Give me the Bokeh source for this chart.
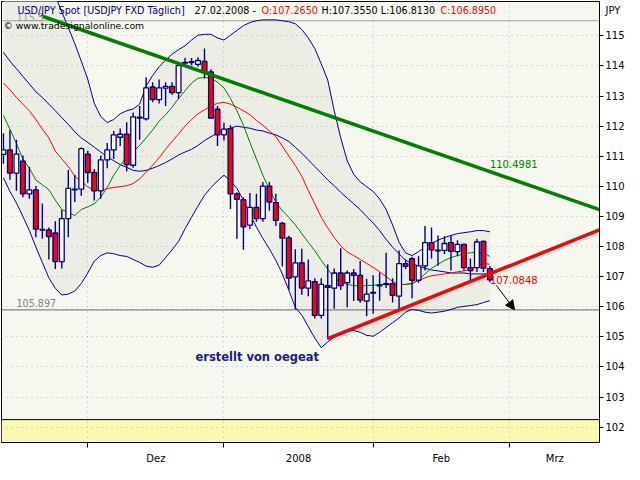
from bokeh.plotting import figure
from bokeh.models import ColumnDataSource, FixedTicker, Label, Span, BoxAnnotation, Arrow, NormalHead
from bokeh.embed import file_html
from bokeh.resources import INLINE

# ---------------- data ----------------
bar = list(range(76))   # 14.11.2007 ... 27.02.2008, daily bars

opens = [111.06, 111.21, 110.44, 110.84, 109.75, 109.88, 108.57, 108.55, 108.45, 107.50,
         108.93, 109.88, 109.91, 111.07, 110.46, 109.85, 110.88, 111.21, 111.63, 111.73,
         110.70, 112.30, 112.24, 113.30, 112.88, 113.26, 113.32, 113.11, 114.09, 114.11,
         114.05, 114.15, 113.80, 112.56, 111.71, 111.92, 109.75, 109.56, 108.71, 109.30,
         108.93, 110.01, 109.46, 108.77, 108.29, 106.99, 107.46, 106.62, 106.83, 105.71,
         106.70, 106.62, 107.12, 106.80, 107.12, 107.04, 106.19, 106.48, 106.69, 106.74,
         106.77, 106.35, 107.43, 107.60, 106.88, 107.36, 108.13, 107.86, 107.87, 108.13,
         107.83, 108.07, 107.30, 107.30, 108.17, 107.265]
highs = [111.76, 111.87, 111.55, 111.02, 110.65, 110.01, 109.43, 108.63, 108.84, 109.21,
         110.54, 110.38, 111.29, 111.18, 110.57, 111.02, 111.44, 111.84, 111.92, 112.13,
         112.45, 112.67, 113.62, 113.46, 113.55, 113.46, 113.46, 114.10, 114.27, 114.26,
         114.29, 114.58, 113.89, 112.67, 112.11, 112.03, 109.80, 109.64, 109.78, 109.75,
         110.14, 110.14, 109.75, 108.82, 108.36, 107.91, 107.93, 107.57, 106.95, 106.95,
         107.41, 107.27, 107.94, 107.20, 107.25, 107.52, 106.93, 107.05, 107.14, 107.79,
         106.95, 107.87, 107.57, 107.66, 107.68, 108.68, 108.63, 108.37, 108.34, 108.37,
         108.21, 108.10, 107.60, 108.26, 108.20, 107.355]
lows = [110.75, 110.22, 109.85, 109.64, 109.59, 108.31, 108.26, 107.57, 107.25, 107.27,
        108.31, 109.48, 109.69, 110.12, 109.53, 109.59, 110.60, 110.91, 111.34, 110.49,
        110.62, 111.55, 112.19, 112.79, 112.75, 112.67, 113.04, 112.90, 113.97, 114.02,
        113.97, 113.57, 112.24, 111.34, 111.52, 109.25, 108.26, 107.89, 108.58, 108.82,
        108.82, 109.19, 108.68, 107.34, 106.56, 105.92, 106.40, 106.35, 105.61, 105.61,
        104.92, 105.93, 106.56, 105.98, 106.19, 106.13, 105.68, 105.77, 106.20, 106.62,
        106.14, 105.93, 107.25, 106.28, 106.80, 107.20, 107.60, 107.36, 107.75, 107.20,
        107.68, 107.20, 106.88, 107.15, 107.15, 106.813]
closes = [111.21, 110.44, 111.07, 109.75, 109.88, 108.58, 108.55, 108.33, 107.50, 108.93,
          109.93, 109.91, 111.25, 110.46, 109.85, 110.88, 111.21, 111.71, 111.73, 110.72,
          112.31, 112.27, 113.27, 112.88, 113.27, 113.32, 113.11, 114.01, 114.12, 114.14,
          114.18, 113.78, 112.27, 111.71, 111.90, 109.75, 109.57, 108.65, 109.30, 108.93,
          110.01, 109.48, 108.87, 108.28, 106.95, 107.46, 106.62, 106.86, 105.71, 106.74,
          106.64, 107.12, 106.70, 107.12, 107.04, 106.22, 106.42, 106.45, 106.72, 106.77,
          106.38, 107.43, 107.34, 106.88, 107.36, 108.13, 107.89, 107.88, 108.10, 107.84,
          108.07, 107.30, 107.20, 108.15, 107.28, 106.895]

green_ma = [112.35, 111.90, 111.42, 110.91, 110.60, 110.21, 110.05, 109.89, 109.54, 109.23,
            109.13, 109.03, 109.23, 109.32, 109.42, 109.64, 109.96, 110.37, 110.69, 110.98,
            111.14, 111.36, 111.61, 111.87, 112.16, 112.38, 112.63, 112.92, 113.17, 113.43,
            113.59, 113.62, 113.59, 113.46, 113.27, 112.92, 112.51, 112.03, 111.46, 110.91,
            110.37, 109.89, 109.48, 109.19, 108.97, 108.72, 108.43, 108.14, 107.86, 107.54,
            107.25, 106.96, 106.81, 106.74, 106.71, 106.68, 106.71, 106.71, 106.74, 106.74,
            106.71, 106.74, 106.74, 106.77, 106.90, 107.09, 107.28, 107.41, 107.54, 107.63,
            107.70, 107.76, 107.79, 107.82, 107.79, 107.67]
red_ma = [113.43, 113.21, 112.95, 112.73, 112.51, 112.22, 111.90, 111.61, 111.17, 110.91,
          110.66, 110.34, 110.15, 109.99, 109.86, 109.86, 109.93, 109.96, 109.99, 110.02,
          110.09, 110.25, 110.47, 110.69, 110.95, 111.23, 111.49, 111.74, 112.00, 112.22,
          112.41, 112.54, 112.67, 112.76, 112.79, 112.73, 112.63, 112.51, 112.38, 112.19,
          112.03, 111.84, 111.65, 111.33, 111.01, 110.69, 110.34, 109.86, 109.42, 108.97,
          108.62, 108.30, 108.02, 107.82, 107.70, 107.57, 107.44, 107.31, 107.16, 107.00,
          106.84, 106.74, 106.74, 106.77, 106.87, 106.96, 107.03, 107.06, 107.09, 107.12,
          107.16, 107.19, 107.25, 107.35, 107.44, 107.41]
blue_ma = [114.45, 114.16, 113.91, 113.65, 113.40, 113.14, 112.95, 112.73, 112.51, 112.28,
           112.06, 111.81, 111.61, 111.46, 111.30, 111.14, 110.98, 110.85, 110.72, 110.63,
           110.53, 110.50, 110.53, 110.60, 110.69, 110.79, 110.91, 111.04, 111.14, 111.23,
           111.36, 111.52, 111.65, 111.77, 111.87, 111.93, 112.00, 111.96, 111.93, 111.87,
           111.84, 111.77, 111.71, 111.61, 111.49, 111.30, 111.10, 110.88, 110.66, 110.44,
           110.21, 110.02, 109.80, 109.61, 109.42, 109.23, 109.00, 108.78, 108.53, 108.24,
           107.98, 107.76, 107.54, 107.44, 107.35, 107.28, 107.22, 107.19, 107.16, 107.12,
           107.12, 107.12, 107.09, 107.09, 107.09, 107.09]
bb_upper = [117.60, 117.50, 117.40, 117.30, 117.20, 117.00, 116.80, 116.60, 116.33, 115.79,
            115.28, 114.74, 114.16, 113.56, 112.76, 112.32, 112.12, 112.22, 112.41, 112.51,
            112.57, 112.73, 113.33, 113.68, 113.97, 114.19, 114.39, 114.54, 114.67, 114.86,
            115.02, 115.05, 115.05, 114.93, 114.86, 115.02, 115.18, 115.34, 115.44, 115.50,
            115.53, 115.53, 115.53, 115.50, 115.47, 115.40, 115.21, 114.93, 114.58, 114.07,
            113.53, 112.51, 111.61, 110.85, 110.40, 110.15, 109.99, 109.83, 109.58, 109.23,
            108.72, 108.14, 107.79, 107.70, 107.83, 107.98, 108.11, 108.21, 108.30, 108.37,
            108.43, 108.46, 108.49, 108.53, 108.53, 108.49]
bb_lower = [110.28, 109.83, 109.45, 109.00, 108.53, 107.98, 107.47, 106.96, 106.61, 106.39,
            106.42, 106.52, 106.77, 107.12, 107.51, 107.70, 107.79, 107.76, 107.70, 107.67,
            107.57, 107.47, 107.35, 107.31, 107.38, 107.63, 107.89, 108.17, 108.59, 108.97,
            109.35, 109.70, 109.96, 110.18, 110.37, 110.18, 109.93, 109.54, 109.07, 108.65,
            108.27, 107.92, 107.54, 107.09, 106.55, 105.98, 105.72, 105.34, 104.96, 104.64,
            104.83, 104.99, 105.09, 105.18, 105.21, 105.15, 105.05, 105.02, 105.15, 105.31,
            105.47, 105.63, 105.82, 105.91, 105.88, 105.82, 105.79, 105.82, 105.85, 105.91,
            105.98, 106.01, 106.04, 106.07, 106.14, 106.20]

month_starts = [13, 34, 57, 78]
month_label_pos = [23.5, 45.5, 67.5, 85.0]
month_labels = ["Dez", "2008", "Feb", "Mrz"]
y_ticks = list(range(102, 116))
unit_label = "JPY"
unit_label_pos = 115.85

green_tl_k = [6, 92]
green_tl_p = [115.65, 109.22]
green_tl_value = 110.4981
red_tl_k = [50, 92]
red_tl_p = [104.94, 108.56]
red_tl_value = 107.0848
support_level = 105.897
high_level = 115.5
arrow_k = [76.0, 78.8]
arrow_p = [106.71, 105.90]
panel_split = 102.25

# ---------------- styling ----------------
BG = "#f6f8ef"
BAND = "#eceee6"
YELLOW = "#f9f9b2"
NAVY = "#000080"
FONT = "DejaVu Sans"

p = figure(frame_width=598, frame_height=441, x_range=(-0.3, 91.9), y_range=(101.49, 116.14),
           y_axis_location="right", output_backend="svg", toolbar_location=None,
           background_fill_color=BG, border_fill_color="white",
           min_border_left=1, min_border_top=1, min_border_right=0, min_border_bottom=0)
p.outline_line_color = "black"
p.outline_line_width = 1

# grid
p.xgrid.ticker = FixedTicker(ticks=month_starts)
p.ygrid.ticker = FixedTicker(ticks=y_ticks)
for g in (p.xgrid[0], p.ygrid[0]):
    g.grid_line_color = "#b8b8b8"
    g.grid_line_dash = "1 4"
    g.grid_line_width = 1

# y axis (right): numbers get a tick mark (drawn as minor ticks), the unit label none
yax = p.yaxis[0]
yax.ticker = FixedTicker(ticks=y_ticks + [unit_label_pos], minor_ticks=y_ticks)
yax.major_label_overrides = {unit_label_pos: unit_label}
yax.major_tick_line_color = None
yax.major_tick_out = 4
yax.major_tick_in = 0
yax.minor_tick_line_color = "black"
yax.minor_tick_out = 4
yax.minor_tick_in = 0
yax.axis_line_color = "black"
yax.major_label_text_font = FONT
yax.major_label_text_font_size = "10px"
yax.major_label_text_color = "black"
yax.major_label_standoff = 2

# x axis
xax = p.xaxis[0]
xax.ticker = FixedTicker(ticks=month_label_pos, minor_ticks=month_starts)
xax.major_label_overrides = {pos: lab for pos, lab in zip(month_label_pos, month_labels)}
xax.major_tick_line_color = None
xax.major_tick_out = 0
xax.major_tick_in = 0
xax.minor_tick_line_color = "black"
xax.minor_tick_out = 5
xax.minor_tick_in = 0
xax.axis_line_color = "black"
xax.major_label_text_font = FONT
xax.major_label_text_font_size = "10px"
xax.major_label_text_color = "black"
xax.major_label_standoff = 5

# background pieces
p.add_layout(BoxAnnotation(top=panel_split, fill_color=YELLOW, fill_alpha=1.0,
                           line_color=None, level="image"))
p.varea(x=bar, y1=bb_lower, y2=bb_upper, fill_color=BAND, level="image")
p.add_layout(Span(location=panel_split, dimension="width", line_color="black", line_width=1))
p.add_layout(Span(location=support_level, dimension="width", line_color="#808080",
                  line_width=1.2, level="underlay"))
p.add_layout(Span(location=high_level, dimension="width", line_color="#a0a0a0",
                  line_width=1.2, level="underlay"))

# indicator lines
p.line(bar, bb_upper, line_color=NAVY, line_width=1)
p.line(bar, bb_lower, line_color=NAVY, line_width=1)
p.line(bar, blue_ma, line_color=NAVY, line_width=1)
p.line(bar, red_ma, line_color="#ff0000", line_width=1)
p.line(bar, green_ma, line_color="#007a00", line_width=1)

# candles
src = ColumnDataSource(dict(
    x=bar, o=opens, h=highs, l=lows, c=closes,
    top=[max(o, c) for o, c in zip(opens, closes)],
    bottom=[min(o, c) for o, c in zip(opens, closes)],
    fill=["#ff0000" if c < o else "#ffffff" for o, c in zip(opens, closes)],
))
p.segment(x0="x", y0="l", x1="x", y1="h", source=src, line_color=NAVY, line_width=1.4)
p.vbar(x="x", width=0.74, top="top", bottom="bottom", source=src,
       fill_color="fill", line_color=NAVY, line_width=1.3)

# trend lines
p.line(green_tl_k, green_tl_p, line_color="#008000", line_width=3.5)
p.line(red_tl_k, red_tl_p, line_color="#ff0000", line_width=3.5)

p.add_layout(Arrow(end=NormalHead(size=9, fill_color="black", line_color="black"),
                   x_start=arrow_k[0], y_start=arrow_p[0], x_end=arrow_k[1], y_end=arrow_p[1],
                   line_color="black", line_width=1))

# texts
def lab(x, y, text, color, size="9.6px", xu="screen", style="normal", align="left"):
    p.add_layout(Label(x=x, y=y, x_units=xu, y_units="data", text=text,
                       text_color=color, text_font=FONT, text_font_size=size,
                       text_font_style=style, text_baseline="middle", text_align=align))

lab(15, 115.63, f"{high_level}", "#9a9a9a")
lab(15, 106.11, f"{support_level}", "#808080")
lab(16, 115.83, "USD/JPY Spot [USDJPY FXD  Täglich]", NAVY)
lab(193, 115.83, "27.02.2008 -", "black")
lab(260, 115.83, f"O:{opens[-1]:.4f}", "#ff0000")
lab(320, 115.83, f"H:{highs[-1]:.4f} L:{lows[-1]:.4f}", "black")
lab(439, 115.83, f"C:{closes[-1]:.4f}", "#ff0000")
lab(2, 115.33, "© www.tradesignalonline.com", "black", size="9.3px")

lab(bar[-1], green_tl_value + 0.25, f"{green_tl_value:.4f}", "#008000", size="10px", xu="data")
lab(bar[-1], red_tl_value - 0.18, f"{red_tl_value:.4f}", "#ff0000", size="10px", xu="data")
lab(29.6, 104.32, "erstellt von oegeat", "#1c1c80", size="11.5px", xu="data", style="bold")

open("out.html", "w").write(file_html(p, INLINE))
